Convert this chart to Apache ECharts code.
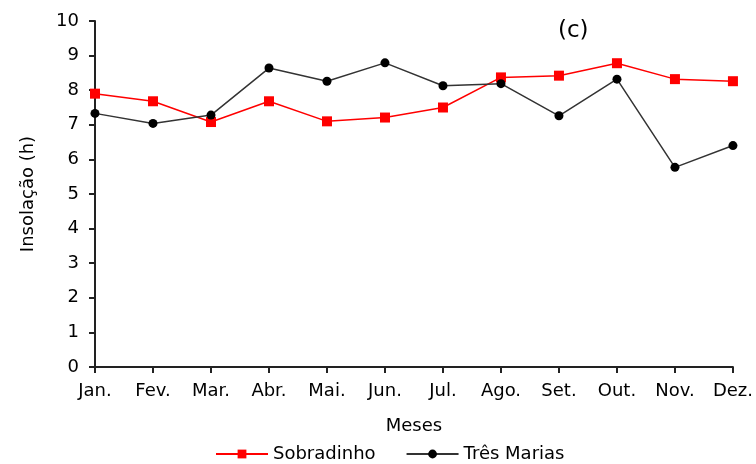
<!DOCTYPE html>
<html>
<head>
<meta charset="utf-8">
<script src="https://cdn.jsdelivr.net/npm/echarts@6/dist/echarts.min.js"></script>
<style>
  html, body { margin: 0; padding: 0; background: #fff; }
  #main { width: 756px; height: 464px; }
</style>
</head>
<body>
<div id="main"></div>
<script>
// meses e valores
const meses = ['Jan.', 'Fev.', 'Mar.', 'Abr.', 'Mai.', 'Jun.', 'Jul.', 'Ago.', 'Set.', 'Out.', 'Nov.', 'Dez.'];
const sobradinho = [7.90, 7.68, 7.08, 7.68, 7.10, 7.21, 7.50, 8.37, 8.42, 8.78, 8.32, 8.26];
const tresMarias = [7.33, 7.04, 7.28, 8.64, 8.26, 8.79, 8.13, 8.19, 7.26, 8.32, 5.77, 6.40];

const fonte = 'DejaVu Sans, Liberation Sans, Arial, sans-serif';
const chart = echarts.init(document.getElementById('main'));

const option = {
  animation: false,
  title: {
    text: '(c)',
    left: 553,
    top: 15,
    textStyle: { fontFamily: fonte, fontSize: 23, fontWeight: 'normal', color: '#000' }
  },
  grid: { left: 95, right: 23, top: 21, bottom: 97 },
  legend: {
    left: 210,
    top: 440,
    itemWidth: 52,
    itemHeight: 11,
    itemGap: 30,
    textStyle: { fontFamily: fonte, fontSize: 18, color: '#000' },
    data: ['Sobradinho', 'Três Marias']
  },
  xAxis: {
    type: 'category',
    boundaryGap: false,
    data: meses,
    name: 'Meses',
    nameLocation: 'middle',
    nameGap: 50,
    nameTextStyle: { fontFamily: fonte, fontSize: 18, color: '#000' },
    axisLine: { lineStyle: { color: '#222', width: 2 } },
    axisTick: { alignWithLabel: true, length: 6, lineStyle: { color: '#222', width: 2 } },
    axisLabel: { fontFamily: fonte, fontSize: 18, color: '#000', margin: 15 },
    splitLine: { show: false }
  },
  yAxis: {
    type: 'value',
    min: 0,
    max: 10,
    interval: 1,
    name: 'Insolação (h)',
    nameLocation: 'middle',
    nameGap: 58,
    nameTextStyle: { fontFamily: fonte, fontSize: 18, color: '#000' },
    axisLine: { show: true, lineStyle: { color: '#222', width: 2 } },
    axisTick: { show: true, length: 6, lineStyle: { color: '#222', width: 2 } },
    axisLabel: { fontFamily: fonte, fontSize: 18, color: '#000', margin: 16 },
    splitLine: { show: false }
  },
  series: [
    {
      name: 'Sobradinho',
      type: 'line',
      data: sobradinho,
      symbol: 'rect',
      symbolSize: 10,
      itemStyle: { color: '#ff0000' },
      lineStyle: { color: '#ff0000', width: 1.5 },
      z: 2
    },
    {
      name: 'Três Marias',
      type: 'line',
      data: tresMarias,
      symbol: 'circle',
      symbolSize: 9,
      itemStyle: { color: '#000' },
      lineStyle: { color: '#333', width: 1.5 },
      z: 3
    }
  ]
};

option && chart.setOption(option);
</script>
</body>
</html>
